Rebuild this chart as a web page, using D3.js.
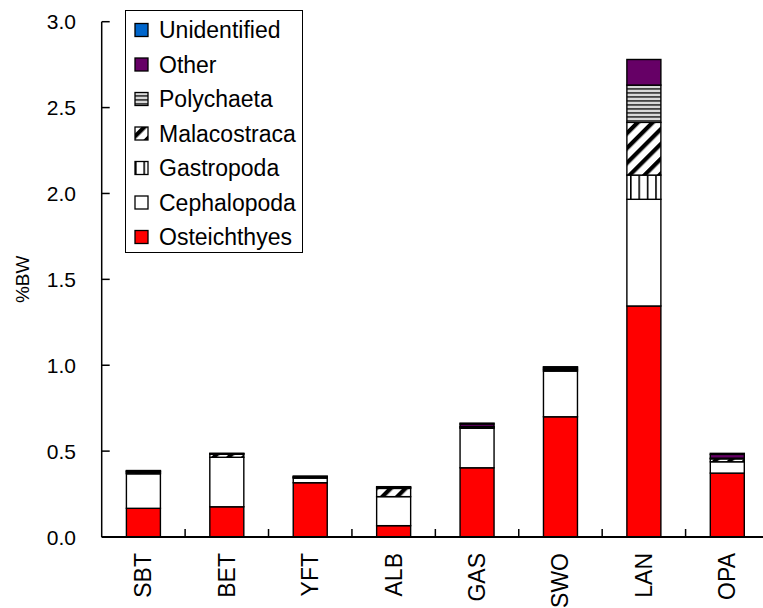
<!DOCTYPE html>
<html>
<head>
<meta charset="utf-8">
<script src="https://cdn.jsdelivr.net/npm/d3@7"></script>
<style>
  body { margin: 0; background: #fff; }
  text { font-family: "Liberation Sans", Arial, sans-serif; fill: #000; }
</style>
</head>
<body>
<svg id="chart" width="763" height="608"></svg>
<script>
// data (%BW, stacked)
const categories = ["SBT", "BET", "YFT", "ALB", "GAS", "SWO", "LAN", "OPA"];
const osteichthyes = [0.167, 0.176, 0.316, 0.066, 0.403, 0.700, 1.345, 0.372];
const cephalopoda = [0.201, 0.288, 0.027, 0.169, 0.230, 0.266, 0.621, 0.066];
const gastropoda = [0.004, 0, 0, 0, 0, 0, 0.141, 0];
const malacostraca = [0.006, 0.018, 0.004, 0.048, 0.006, 0.008, 0.307, 0.017];
const polychaeta = [0.003, 0, 0.004, 0, 0.004, 0.006, 0.217, 0.004];
const other = [0.004, 0.004, 0.004, 0.006, 0.015, 0.008, 0.149, 0.022];
const unidentified = [0.002, 0.001, 0, 0.004, 0.005, 0.003, 0, 0.006];
const yTicks = [0, 0.5, 1.0, 1.5, 2.0, 2.5, 3.0];

// series from bottom to top
const seriesNames = ["Osteichthyes", "Cephalopoda", "Gastropoda", "Malacostraca", "Polychaeta", "Other", "Unidentified"];
const seriesValues = [osteichthyes, cephalopoda, gastropoda, malacostraca, polychaeta, other, unidentified];
const fills = {
  Osteichthyes: "#ff0000",
  Cephalopoda: "#ffffff",
  Gastropoda: "url(#pGastro)",
  Malacostraca: "url(#pMala)",
  Polychaeta: "url(#pPoly)",
  Other: "#660066",
  Unidentified: "#0066cc"
};

const rows = categories.map((c, i) => {
  const r = { cat: c };
  seriesNames.forEach((s, k) => r[s] = seriesValues[k][i]);
  return r;
});

const svg = d3.select("#chart");
const defs = svg.append("defs");

// vertical lines
const pg = defs.append("pattern").attr("id", "pGastro")
  .attr("patternUnits", "userSpaceOnUse").attr("width", 8.4).attr("height", 10)
  .attr("x", 126);
pg.append("rect").attr("width", 8.4).attr("height", 10).attr("fill", "#fff");
pg.append("rect").attr("x", 0).attr("width", 1.6).attr("height", 10).attr("fill", "#000");

// thick diagonal stripes
const pm = defs.append("pattern").attr("id", "pMala")
  .attr("patternUnits", "userSpaceOnUse").attr("width", 10.5).attr("height", 10.5)
  .attr("patternTransform", "rotate(45)");
pm.append("rect").attr("width", 10.5).attr("height", 10.5).attr("fill", "#fff");
pm.append("rect").attr("width", 4.2).attr("height", 10.5).attr("fill", "#000");

// horizontal lines
const pp = defs.append("pattern").attr("id", "pPoly")
  .attr("patternUnits", "userSpaceOnUse").attr("width", 10).attr("height", 4);
pp.append("rect").attr("width", 10).attr("height", 4).attr("fill", "#d8d8d8");
pp.append("rect").attr("y", 0).attr("width", 10).attr("height", 1.8).attr("fill", "#444");

const plotL = 101.7, plotR = 769, plotT = 21.7, plotB = 537;

const x = d3.scaleBand().domain(categories).range([plotL, plotR]).paddingInner(0).paddingOuter(0);
const y = d3.scaleLinear().domain([0, 3]).range([plotB, plotT]);
const barW = 34;

const stacked = d3.stack().keys(seriesNames)(rows);

const layers = svg.append("g").selectAll("g").data(stacked).join("g")
  .attr("fill", d => fills[d.key]);

layers.selectAll("rect").data(d => d).join("rect")
  .attr("x", d => x(d.data.cat) + x.bandwidth() / 2 - barW / 2)
  .attr("y", d => y(d[1]))
  .attr("width", barW)
  .attr("height", d => Math.max(0, y(d[0]) - y(d[1])))
  .attr("stroke", "#000")
  .attr("stroke-width", 1.4)
  .style("display", d => (d[1] - d[0]) > 0 ? null : "none");

// axes drawn by hand to get inward ticks
const axes = svg.append("g").attr("stroke", "#000").attr("stroke-width", 1.5);
axes.append("line").attr("x1", plotL).attr("x2", plotL).attr("y1", plotT).attr("y2", plotB);
axes.append("line").attr("x1", plotL).attr("x2", plotR).attr("y1", plotB).attr("y2", plotB).attr("stroke-width", 2);

axes.selectAll(".yt").data(yTicks).join("line")
  .attr("x1", plotL).attr("x2", plotL + 8)
  .attr("y1", d => y(d)).attr("y2", d => y(d));

axes.selectAll(".xt").data(categories.slice(1)).join("line")
  .attr("x1", d => x(d)).attr("x2", d => x(d))
  .attr("y1", plotB).attr("y2", plotB - 8);

svg.append("g").selectAll("text").data(yTicks).join("text")
  .attr("x", 76)
  .attr("y", d => y(d))
  .attr("dy", "0.37em")
  .attr("text-anchor", "end")
  .attr("font-size", 21)
  .text(d => d.toFixed(1));

svg.append("g").selectAll("text").data(categories).join("text")
  .attr("transform", d => `translate(${x(d) + x.bandwidth() / 2 + 8},553) rotate(-90)`)
  .attr("text-anchor", "end")
  .attr("font-size", 23)
  .text(d => d);

svg.append("text")
  .attr("transform", `translate(29,${(plotT + plotB) / 2}) rotate(-90)`)
  .attr("text-anchor", "middle")
  .attr("font-size", 19)
  .text("%BW");

// legend, top item = last series
const legend = svg.append("g");
legend.append("rect")
  .attr("x", 125.5).attr("y", 10.5).attr("width", 177).attr("height", 242)
  .attr("fill", "#fff").attr("stroke", "#000").attr("stroke-width", 1);

const legendItems = seriesNames.slice().reverse();
const li = legend.selectAll("g.item").data(legendItems).join("g")
  .attr("transform", (d, i) => `translate(135,${30 + i * 34.5})`);

li.append("rect")
  .attr("x", 0).attr("y", -6.5).attr("width", 13).attr("height", 13)
  .attr("fill", d => fills[d]).attr("stroke", "#000").attr("stroke-width", 1.3);

li.append("text")
  .attr("x", 24).attr("dy", "0.36em")
  .attr("font-size", 23)
  .text(d => d);
</script>
</body>
</html>
